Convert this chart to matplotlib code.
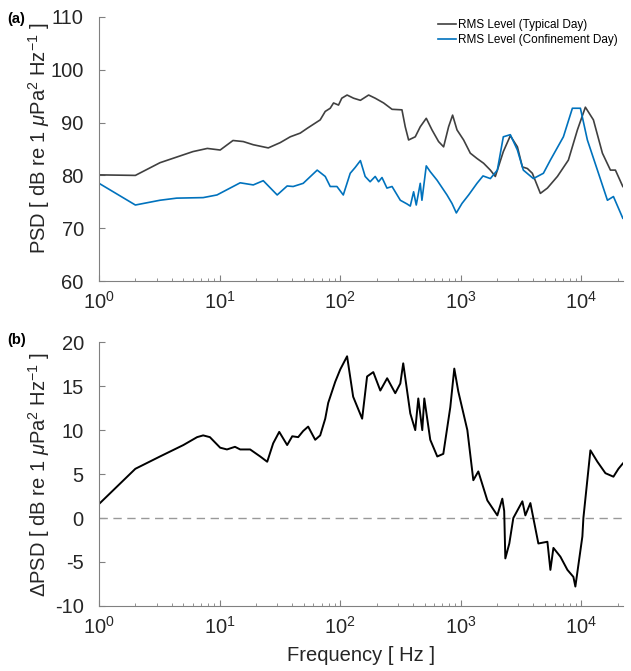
import matplotlib
matplotlib.use("Agg")
import matplotlib.pyplot as plt

plt.rcParams['font.family'] = ['Liberation Sans', 'DejaVu Sans']
plt.rcParams['mathtext.fontset'] = 'custom'
plt.rcParams['mathtext.rm'] = 'Liberation Sans'
plt.rcParams['mathtext.it'] = 'Liberation Sans:italic'
plt.rcParams['mathtext.bf'] = 'Liberation Sans:bold'
plt.rcParams['axes.unicode_minus'] = False

# (a) typical day RMS level
typ_f = [1, 2, 3.2, 6.0, 7.9, 10.1, 12.9, 15.7, 19.0, 25.3, 31.8, 38.5, 46.6, 53.2,
         68.2, 75.1, 82.6, 88.0, 96.8, 103, 114, 129, 147, 172, 195, 229, 269, 325, 346,
         369, 419, 461, 517, 577, 654, 720, 792, 855, 930, 1055, 1199, 1362, 1545, 1758,
         1933, 2252, 2574, 2946, 3240, 3566, 3920, 4570,
         5226, 6324, 7802, 9268, 10790, 12580, 14940, 17410, 19150, 22050]
typ_db = [80.1, 80.0, 82.4, 84.5, 85.1, 84.8, 86.6, 86.4, 85.8, 85.2, 86.2, 87.3, 88.0, 88.9,
          90.5, 92.1, 92.7, 93.7, 93.3, 94.6, 95.2, 94.6, 94.2, 95.2, 94.6, 93.7, 92.5, 92.4, 89.2,
          86.7, 87.3, 89.2, 90.8, 88.6, 86.4, 85.4, 89.2, 91.4, 88.6, 86.7, 84.2, 83.2, 82.3, 81.0,
          79.8, 84.5, 87.5, 85.4, 81.6, 81.3, 80.4, 76.6,
          77.6, 79.8, 82.9, 88.6, 92.9, 90.5, 84.2, 81.0, 81.0, 77.9]

# (a) confinement day RMS level
con_f = [1, 2, 3.2, 4.4, 7.3, 9.5, 14.8, 19.0, 23.0, 30.0, 36.3, 40.7, 49.3, 64.4, 75.1,
         82.6, 93.9, 106, 121, 133, 147, 161, 177, 195, 208, 222, 244, 269, 315, 358, 381,
         406, 427, 461, 476, 517, 558, 635, 768, 845, 918, 1023, 1161, 1362, 1528, 1758,
         2009, 2252, 2574, 2946, 3300, 3997, 4840, 5533,
         7093, 8420, 9813, 11210, 13580, 16440, 18440, 22050]
con_db = [78.5, 74.4, 75.3, 75.7, 75.8, 76.3, 78.6, 78.2, 79.0, 76.3, 78.0, 77.9, 78.5, 81.0, 79.8,
          77.9, 77.9, 76.3, 80.4, 81.5, 82.8, 79.8, 78.8, 79.8, 78.8, 79.6, 77.6, 77.9, 75.3, 74.6, 74.2,
          76.9, 74.4, 78.5, 75.3, 81.8, 80.7, 79.1, 76.3, 74.7, 72.9, 74.7, 76.3, 78.5, 79.9, 79.4,
          81.0, 87.3, 87.7, 84.8, 81.0, 79.4, 80.4, 82.9,
          87.3, 92.7, 92.7, 86.7, 81.0, 75.3, 76.0, 71.9]

# (b) difference typical - confinement
d_f = [1, 2, 3.2, 5.0, 6.5, 7.3, 8.3, 10.1, 11.5, 13.4, 14.8, 17.9, 21.7, 24.8, 27.8, 31.2,
       36.3, 40, 44.8, 49.3, 54.2, 62.0, 68.2, 75.1, 79.5, 90.9, 100, 114, 128, 152, 167, 188,
       215, 245, 286, 315, 333, 381, 419, 444, 479, 498, 558, 638, 716, 818, 883, 953, 1133,
       1270, 1397, 1660, 2009, 2209, 2290, 2340, 2525, 2726, 3240, 3430, 3776, 4397, 5226,
       5533, 5861, 6697, 7657, 8585, 8913, 10190, 10390, 11880, 13580, 15820, 18440, 20290, 22050]
d_db = [1.6, 5.6, 7.0, 8.3, 9.2, 9.4, 9.2, 8.0, 7.8, 8.1, 7.8, 7.8, 7.0, 6.4, 8.5, 9.8,
        8.3, 9.3, 9.2, 9.9, 10.4, 8.9, 9.4, 11.3, 13.1, 15.5, 16.9, 18.4, 13.8, 11.3, 16.1, 16.6,
        14.5, 15.9, 14.2, 15.3, 17.6, 11.9, 10.0, 13.6, 10.0, 13.6, 8.9, 7.0, 7.3, 12.6, 17.0, 14.4, 10.0,
        4.3, 5.3, 2.0, 0.3, 2.2, 0.8, -4.6, -2.9, 0.0, 1.9, 0.3, 1.7, -2.9, -2.7,
        -5.9, -3.4, -4.4, -5.9, -6.7, -7.8, -2.1, 0.0, 7.7, 6.4, 5.1, 4.7, 5.6, 6.2]

fig = plt.figure(figsize=(6.31, 6.71), dpi=100)
ax1 = fig.add_axes([0.157, 0.581, 0.830, 0.394])
ax2 = fig.add_axes([0.157, 0.097, 0.830, 0.393])

ax1.plot(typ_f, typ_db, color='#404040', lw=1.2, label='RMS Level (Typical Day)')
ax1.plot(con_f, con_db, color='#0072BD', lw=1.2, label='RMS Level (Confinement Day)')
ax2.axhline(0, color='#999999', lw=1, ls=(0, (6, 4)))
ax2.plot(d_f, d_db, color='black', lw=1.4)

for ax in (ax1, ax2):
    ax.set_xscale('log')
    ax.set_xlim(1, 22050)
    for s in ('top', 'right'):
        ax.spines[s].set_visible(False)
    for s in ('left', 'bottom'):
        ax.spines[s].set_color('#808080')
    ax.tick_params(which='both', direction='in', colors='#808080', labelcolor='#262626',
                   labelsize=14.5)
    ax.tick_params(which='major', length=4)
    ax.tick_params(which='minor', length=2)
    ax.tick_params(axis='y', pad=11)
    ax.tick_params(axis='x', pad=7)

ax1.set_ylim(60, 110)
ax1.set_yticks(range(60, 111, 10))
ax1.set_ylabel(r'PSD [ dB re 1 $\mu$Pa$^2$ Hz$^{-1}$ ]', fontsize=14.5, color='#262626')
ax1.yaxis.set_label_coords(-0.09, 0.54)
ax1.legend(loc='upper right', bbox_to_anchor=(1.01, 1.03), frameon=False, fontsize=8.5,
           handlelength=1.6, handletextpad=0.1, labelspacing=0.2)

ax2.set_ylim(-10, 20)
ax2.set_yticks(range(-10, 21, 5))
ax2.set_ylabel(r'$\Delta$PSD [ dB re 1 $\mu$Pa$^2$ Hz$^{-1}$ ]', fontsize=14.5, color='#262626')
ax2.yaxis.set_label_coords(-0.09, 0.5)
ax2.set_xlabel('Frequency [ Hz ]', fontsize=14.5, color='#262626', labelpad=6)

fig.text(0.012, 0.972, '(a)', fontsize=10.5, fontweight='bold', va='center')
fig.text(0.012, 0.493, '(b)', fontsize=10.5, fontweight='bold', va='center')

fig.savefig('out.png', dpi=100)
